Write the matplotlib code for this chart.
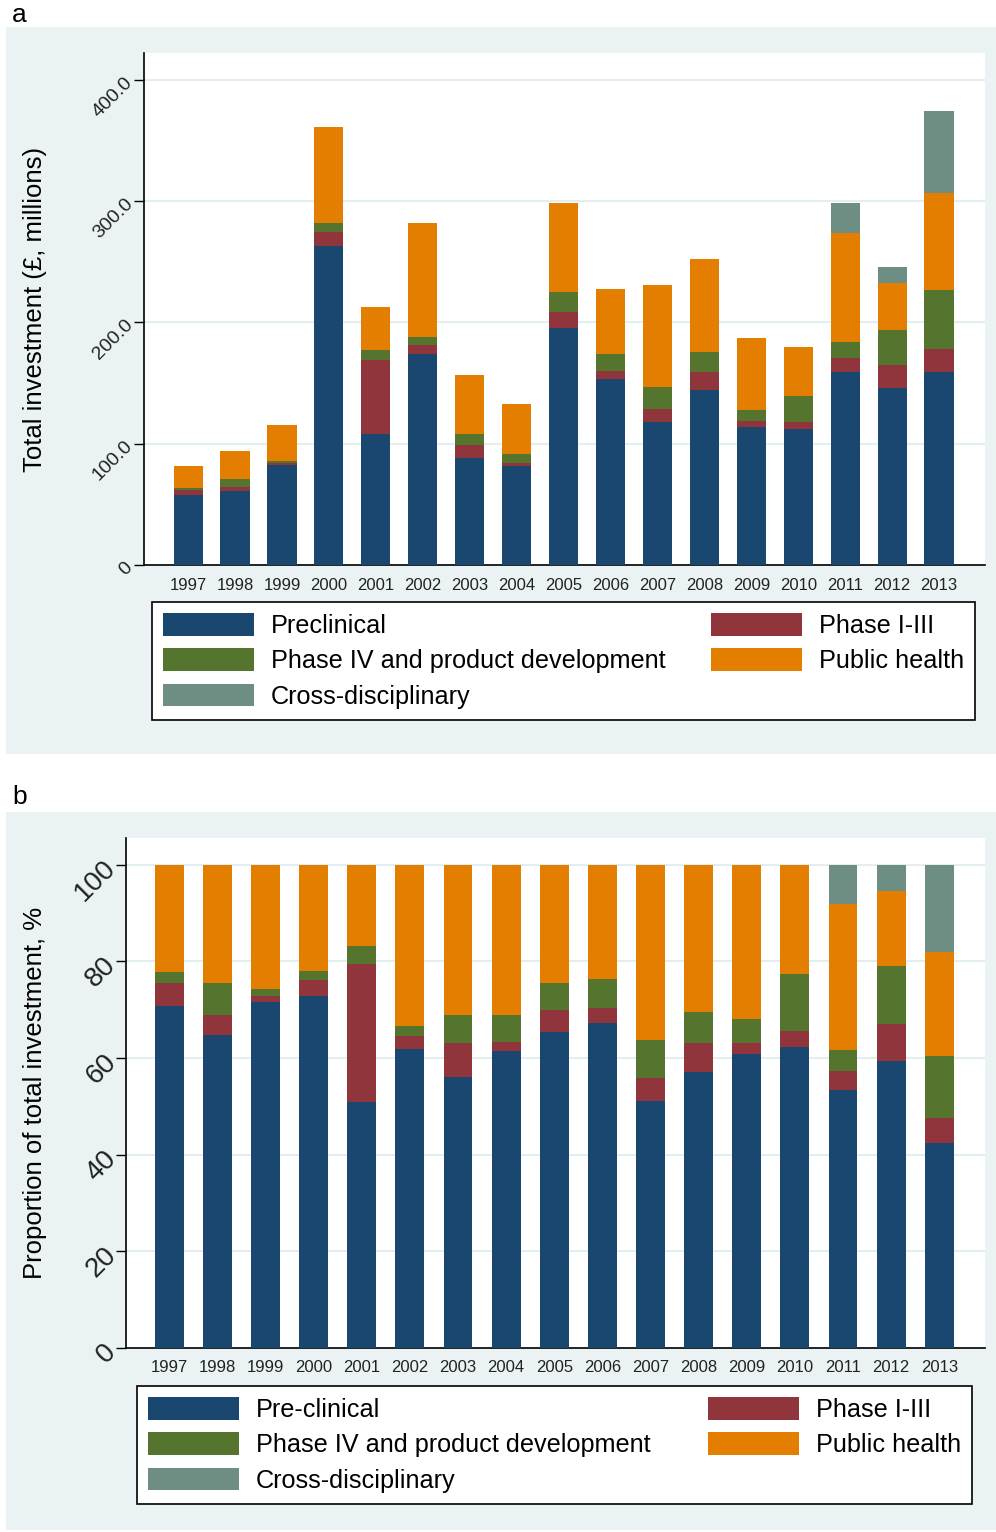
import numpy as np
import matplotlib
matplotlib.use('Agg')
import matplotlib.pyplot as plt
from matplotlib.patches import Rectangle

plt.rcParams['font.family'] = ['Liberation Sans', 'DejaVu Sans']

# Investment by year (GBP millions)
years = ['1997', '1998', '1999', '2000', '2001', '2002', '2003', '2004', '2005',
         '2006', '2007', '2008', '2009', '2010', '2011', '2012', '2013']
preclinical = [57.8, 60.6, 82.7, 262.8, 108.1, 174.3, 88.0, 81.3, 195.3,
               153.1, 117.9, 143.9, 114.0, 112.0, 159.2, 145.8, 159.2]
phase_1_3 = [3.9, 3.9, 1.4, 11.8, 60.9, 7.3, 10.9, 2.5, 13.1,
             6.7, 10.6, 15.0, 4.4, 5.9, 11.5, 18.7, 19.0]
phase_4 = [2.0, 6.2, 1.7, 7.0, 7.8, 6.1, 9.2, 7.3, 16.7,
           13.9, 18.1, 16.5, 9.3, 21.2, 13.1, 29.6, 48.3]
public_health = [18.1, 22.9, 29.6, 79.6, 35.8, 93.9, 48.9, 41.3, 73.2,
                 53.7, 83.8, 76.8, 59.7, 40.5, 89.9, 38.3, 80.2]
cross_disc = [0, 0, 0, 0, 0, 0, 0, 0, 0,
              0, 0, 0, 0, 0, 24.6, 13.4, 67.9]

series = [preclinical, phase_1_3, phase_4, public_health, cross_disc]
colors = ['#1a476f', '#90353b', '#55752f', '#e37e00', '#6e8e84']
labels_a = ['Preclinical', 'Phase I-III', 'Phase IV and product development',
            'Public health', 'Cross-disciplinary']
labels_b = ['Pre-clinical', 'Phase I-III', 'Phase IV and product development',
            'Public health', 'Cross-disciplinary']

W, H = 996, 1532
fig = plt.figure(figsize=(W / 100, H / 100), dpi=100)
bg = '#eaf2f3'


def fx(px):
    return px / W


def fy(py):
    return 1 - py / H


# panel backgrounds
for top, bot in [(27, 754), (812, 1530)]:
    fig.patches.append(Rectangle((fx(6), fy(bot)), fx(990), (bot - top) / H,
                                 transform=fig.transFigure, facecolor=bg,
                                 edgecolor='none', zorder=-10))
fig.text(fx(12), fy(15), 'a', fontsize=19, va='center', ha='left')
fig.text(fx(12), fy(797), 'b', fontsize=19, va='center', ha='left')

x = np.arange(len(years))
totals = np.sum(np.array(series), axis=0)


def draw_panel(ax, data, width, ylim, yticks, yticklabels, ytick_size, ylabel, xlim):
    bottom = np.zeros(len(years))
    handles = []
    for vals, c in zip(data, colors):
        b = ax.bar(x, vals, width, bottom=bottom, color=c, edgecolor='none', zorder=3)
        handles.append(b)
        bottom = bottom + np.array(vals)
    ax.set_xlim(*xlim)
    ax.set_ylim(*ylim)
    ax.set_yticks(yticks)
    ax.set_yticklabels(yticklabels, rotation=45, ha='right', va='center',
                       rotation_mode='anchor', fontsize=ytick_size, color='#222222')
    ax.set_xticks(x)
    ax.set_xticklabels(years, fontsize=12, color='#222222')
    ax.tick_params(axis='x', length=0, pad=9)
    ax.tick_params(axis='y', length=7, width=1, pad=3)
    ax.grid(axis='y', color='#e3eef0', linewidth=1.5, zorder=0)
    for s in ['top', 'right']:
        ax.spines[s].set_visible(False)
    for s in ['left', 'bottom']:
        ax.spines[s].set_linewidth(1.2)
    ax.set_ylabel(ylabel, fontsize=18.5)
    return handles


# panel a: absolute investment
ax1 = fig.add_axes([fx(144), fy(565), fx(985 - 144), (565 - 53) / H])
ax1.set_zorder(1)
h1 = draw_panel(ax1, series, 0.62, (0, 422), [0, 100, 200, 300, 400],
                ['0', '100.0', '200.0', '300.0', '400.0'], 14,
                'Total investment (£, millions)', (-0.94, 16.98))
ax1.yaxis.set_label_coords(fx(47 - 144) / fx(985 - 144), 0.5)

# panel b: share of total investment
shares = [np.array(s) / totals * 100 for s in series]
ax2 = fig.add_axes([fx(126), fy(1348), fx(985 - 126), (1348 - 838) / H])
ax2.set_zorder(1)
h2 = draw_panel(ax2, shares, 0.6, (0, 105.5), [0, 20, 40, 60, 80, 100],
                ['0', '20', '40', '60', '80', '100'], 20,
                'Proportion of total investment, %', (-0.9, 16.95))
ax2.yaxis.set_label_coords(fx(47 - 126) / fx(985 - 126), 0.5)

order = [0, 2, 4, 1, 3]
for handles, labels, box in [(h1, labels_a, (152, 602, 975, 718)),
                             (h2, labels_b, (137, 1386, 972, 1502))]:
    x0, y0, x1, y1 = box
    leg = fig.legend([handles[i] for i in order], [labels[i] for i in order],
                     loc='upper left', ncol=2, mode='expand',
                     bbox_to_anchor=(fx(x0), fy(y1), fx(x1 - x0), (y1 - y0) / H),
                     fontsize=18.2, frameon=True, fancybox=False, edgecolor='black',
                     facecolor='white', framealpha=1,
                     handlelength=3.6, handleheight=1.0, handletextpad=0.65,
                     labelspacing=0.4, borderpad=0.45, borderaxespad=0)
    leg.get_frame().set_linewidth(1.2)
    leg.set_zorder(2)

fig.savefig('out.png', dpi=100, facecolor='white')
